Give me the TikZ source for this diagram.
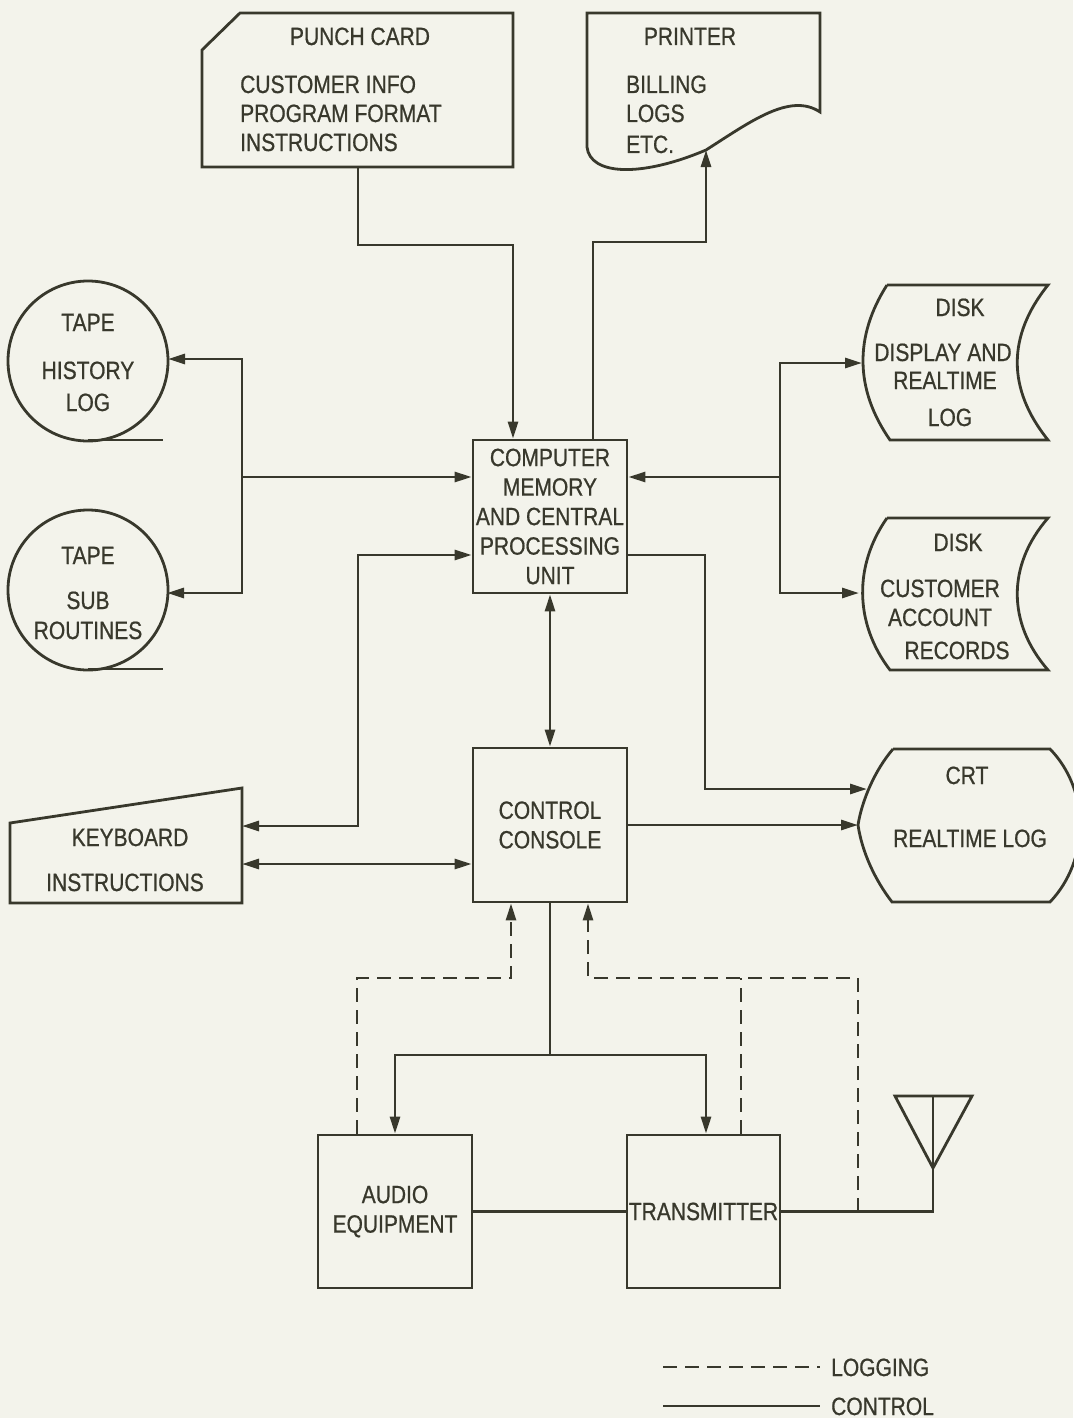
\documentclass[tikz,border=0pt]{standalone}
\usepackage{fontspec}
\newfontfamily\labfont{Liberation Sans}[FakeStretch=0.84,FakeBold=0.7]
\usetikzlibrary{arrows.meta}
\definecolor{ink}{HTML}{38382C}
\definecolor{paper}{HTML}{F3F3EB}
\begin{document}
\begin{tikzpicture}[x=1pt,y=-1pt,
  ln/.style={draw=ink,line width=2.8pt},
  ctl/.style={ln},
  lg/.style={ln,dash pattern=on 14pt off 8pt},
  tip/.style={-{Triangle[length=17pt,width=10pt]}},
  both/.style={{Triangle[length=17pt,width=10pt]}-{Triangle[length=17pt,width=10pt]}},
  lbl/.style={text=ink,font=\labfont\fontsize{25}{29.5}\selectfont,inner sep=0pt,anchor=base},
  lbw/.style={lbl,anchor=base west},
  boxn/.style={draw=ink,line width=2.8pt,minimum width=154pt,minimum height=153pt,inner sep=0pt,align=center,text=ink,font=\labfont\fontsize{25}{29.5}\selectfont}
]
\fill[paper] (0,0) rectangle (1073,1418);
\useasboundingbox (0,0) rectangle (1073,1418);

% ---------- rectangular blocks ----------
\node[boxn] (cpu) at (550,516.5) {COMPUTER\\MEMORY\\AND CENTRAL\\PROCESSING\\UNIT};
\node[boxn,minimum height=154pt] (con) at (550,825) {CONTROL\\CONSOLE};
\node[boxn] (aud) at (395,1211.5) {AUDIO\\EQUIPMENT};
\node[boxn,minimum width=153pt] (tx) at (703.5,1211.5) {TRANSMITTER};

% ---------- punch card ----------
\draw[ln] (240,13) -- (513,13) -- (513,167) -- (202,167) -- (202,50) -- cycle;
\node[lbl] (pc0) at (360,45) {PUNCH CARD};
\node[lbw] (pc1) at (240,93) {CUSTOMER INFO};
\node[lbw] (pc2) at (240,122) {PROGRAM FORMAT};
\node[lbw] (pc3) at (240,151) {INSTRUCTIONS};
\coordinate (pcB) at (358,167);

% ---------- printer ----------
\draw[ln] (587,13) -- (820,13) -- (820,112)
  .. controls (790,92) and (750,122) .. (706,150)
  .. controls (640,178) and (590,175) .. (587,147) -- cycle;
\node[lbl] (pr0) at (690,45) {PRINTER};
\node[lbw] (pr1) at (626,93) {BILLING};
\node[lbw] (pr2) at (626,122) {LOGS};
\node[lbw] (pr3) at (626,153) {ETC.};
\coordinate (prB) at (706,150);

% ---------- tapes ----------
\node[draw=ink,line width=2.8pt,circle,minimum size=160pt,inner sep=0pt] (t1) at (88,361) {};
\draw[ln] (88,440) -- (163,440);
\node[lbl] (t1a) at (88,331) {TAPE};
\node[lbl] (t1b) at (88,379) {HISTORY};
\node[lbl] (t1c) at (88,411) {LOG};
\node[draw=ink,line width=2.8pt,circle,minimum size=160pt,inner sep=0pt] (t2) at (88,590) {};
\draw[ln] (88,669) -- (163,669);
\node[lbl] (t2a) at (88,564) {TAPE};
\node[lbl] (t2b) at (88,609) {SUB};
\node[lbl] (t2c) at (88,639) {ROUTINES};
\coordinate (t1E) at (168,359);
\coordinate (t2E) at (167,593);

% ---------- keyboard ----------
\draw[ln] (10,823) -- (242,788) -- (242,903) -- (10,903) -- cycle;
\node[lbl] (kb1) at (130,846) {KEYBOARD};
\node[lbl] (kb2) at (125,891) {INSTRUCTIONS};
\coordinate (kbA) at (242,826);
\coordinate (kbB) at (242,864);

% ---------- disks ----------
\draw[ln] (887,285) -- (1048,285) .. controls (1007,336) and (1007,389) .. (1048,440)
  -- (890,440) .. controls (854.5,389) and (854.5,336) .. (887,285);
\node[lbl] (d1a) at (960,316) {DISK};
\node[lbl] (d1b) at (943,361) {DISPLAY AND};
\node[lbl] (d1c) at (945,389) {REALTIME};
\node[lbl] (d1d) at (950,426) {LOG};
\draw[ln] (887,518) -- (1048,518) .. controls (1007,565) and (1007,623) .. (1048,670)
  -- (890,670) .. controls (854,623) and (854,565) .. (887,518);
\node[lbl] (d2a) at (958,551) {DISK};
\node[lbl] (d2b) at (940,597) {CUSTOMER};
\node[lbl] (d2c) at (940,626) {ACCOUNT};
\node[lbl] (d2d) at (957,659) {RECORDS};
\coordinate (d1W) at (862,363);
\coordinate (d2W) at (859,593);

% ---------- CRT ----------
\draw[ln] (893,749) -- (1050,749) .. controls (1090,790) and (1090,860) .. (1050,902)
  -- (892,902) .. controls (875,880) and (862,852) .. (858,825)
  .. controls (862,800) and (875,770) .. (893,749);
\node[lbl] (cr1) at (967,784) {CRT};
\node[lbl] (cr2) at (970,847) {REALTIME LOG};
\coordinate (crtA) at (867,789);
\coordinate (crtB) at (858,825);

% ---------- antenna ----------
\coordinate (antT) at (933,1096);
\draw[ln,line join=miter] (895,1096) -- (972,1096) -- (933,1168) -- cycle;

% ---------- junctions ----------
\coordinate (j1) at (513,245);
\coordinate (j2) at (593,242);
\coordinate (j3) at (706,242);
\coordinate (b2) at (242,593);
\coordinate (b3) at (242,477);
\coordinate (k1) at (358,555);
\coordinate (r2) at (780,593);
\coordinate (r3) at (780,477);
\coordinate (c1) at (705,555);
\coordinate (c2) at (705,789);
\coordinate (s1) at (550,1055);
\coordinate (dd1) at (511,978);
\coordinate (e1) at (858,1212);
\coordinate (e2) at (588,978);
\coordinate (e3) at (741,978);

% ---------- control connectors ----------
\draw[ctl,tip] (pcB) |- (j1) -- (j1 |- cpu.north);
\draw[ctl,tip] (j2 |- cpu.north) -- (j2) -- (j3) -- (prB);
\draw[ctl,both] (t1E) -| (b2) -- (t2E);
\draw[ctl,tip] (b3) -- (b3 -| cpu.west);
\draw[ctl,both] (kbA) -| (k1) -- (k1 -| cpu.west);
\draw[ctl,both] (kbB) -- (kbB -| con.west);
\draw[ctl,both] (cpu.south) -- (con.north);
\draw[ctl,tip] (r3) -- (r3 -| cpu.east);
\draw[ctl,both] (d1W) -| (r2) -- (d2W);
\draw[ctl,tip] (c1 -| cpu.east) -| (c2) -- (crtA);
\draw[ctl,tip] (crtB -| con.east) -- (crtB);
\draw[ctl] (con.south) -- (s1);
\draw[ctl,tip] (s1) -| (aud.north);
\draw[ctl,tip] (s1) -| ([xshift=2.5pt]tx.north);
\draw[ctl] (aud.east) -- (tx.west);
\draw[ctl] (tx.east) -| (antT);

% ---------- logging connectors ----------
\draw[lg,tip] ([xshift=-38pt]aud.north) |- (dd1) -- (dd1 |- con.south);
\draw[lg,tip] (e1) |- (e2) -- (e2 |- con.south);
\draw[lg] (e3 |- tx.north) -- (e3);

% ---------- legend ----------
\coordinate (lg1) at (663,1367);
\coordinate (lg2) at (820,1367);
\coordinate (lc1) at (663,1406);
\coordinate (lc2) at (820,1406);
\draw[lg] (lg1) -- (lg2);
\draw[ctl] (lc1) -- (lc2);
\node[lbw] (lgt) at (831,1376) {LOGGING};
\node[lbw] (lct) at (831,1415) {CONTROL};
\end{tikzpicture}
\end{document}
